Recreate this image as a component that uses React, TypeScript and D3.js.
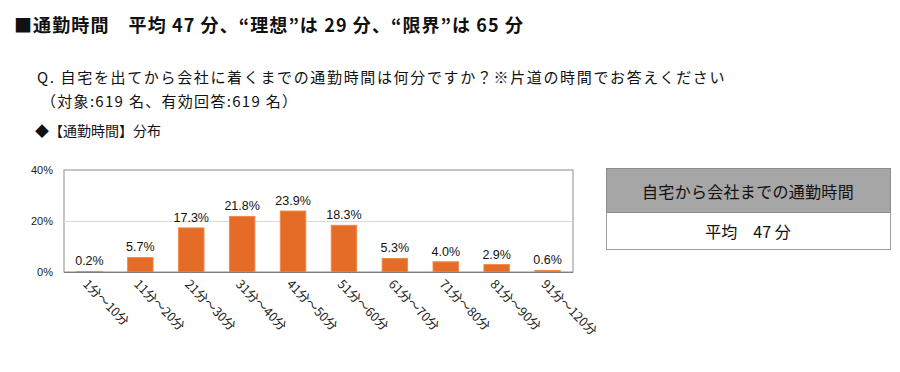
import { useEffect, useRef } from "react";
import * as d3 from "d3";

const categories = [
  "1分～10分",
  "11分～20分",
  "21分～30分",
  "31分～40分",
  "41分～50分",
  "51分～60分",
  "61分～70分",
  "71分～80分",
  "81分～90分",
  "91分～120分",
];
const shares = [0.2, 5.7, 17.3, 21.8, 23.9, 18.3, 5.3, 4.0, 2.9, 0.6];
const yTicks = [0, 20, 40];

const JP = '"Noto Sans CJK JP", "Noto Sans", sans-serif';
const NUM = '"Liberation Sans", "Noto Sans CJK JP", sans-serif';

export default function App() {
  const ref = useRef<SVGSVGElement>(null);

  useEffect(() => {
    if (!ref.current) return;
    const svg = d3.select(ref.current);
    svg.selectAll("*").remove();

    const width = 900;
    const height = 372;
    const plot = { left: 64, right: 573, top: 170, bottom: 272 };

    svg.attr("width", width).attr("height", height);
    svg.append("rect").attr("width", width).attr("height", height).attr("fill", "#fff");

    // headings
    svg
      .append("text")
      .attr("x", 14)
      .attr("y", 32)
      .style("font-family", JP)
      .style("font-size", "18px")
      .style("font-weight", "bold")
      .style("letter-spacing", "1.1px")
      .attr("fill", "#111")
      .text("■通勤時間　平均 47 分、“理想”は 29 分、“限界”は 65 分");

    const body = [
      { x: 37, y: 83, size: 15, sp: 1.65, t: "Q. 自宅を出てから会社に着くまでの通勤時間は何分ですか？※片道の時間でお答えください" },
      { x: 41, y: 107, size: 15, sp: 1.3, t: "（対象:619 名、有効回答:619 名）" },
      { x: 35, y: 136, size: 14, sp: 0, t: "◆【通勤時間】分布" },
    ];
    svg
      .selectAll(".body")
      .data(body)
      .join("text")
      .attr("class", "body")
      .attr("x", (d) => d.x)
      .attr("y", (d) => d.y)
      .style("font-family", JP)
      .style("font-size", (d) => `${d.size}px`)
      .style("letter-spacing", (d) => `${d.sp}px`)
      .attr("fill", "#111")
      .text((d) => d.t);

    const x = d3
      .scaleBand()
      .domain(categories)
      .range([plot.left, plot.right])
      .paddingInner(0.5)
      .paddingOuter(0.25);

    const y = d3.scaleLinear().domain([0, 40]).range([plot.bottom, plot.top]);

    // frame
    svg
      .append("rect")
      .attr("x", plot.left)
      .attr("y", plot.top)
      .attr("width", plot.right - plot.left)
      .attr("height", plot.bottom - plot.top)
      .attr("fill", "none")
      .attr("stroke", "#8c8c8c");

    // grid
    svg
      .selectAll(".grid")
      .data(yTicks.filter((t) => t > 0 && t < 40))
      .join("line")
      .attr("class", "grid")
      .attr("x1", plot.left)
      .attr("x2", plot.right)
      .attr("y1", (d) => y(d) + 0.5)
      .attr("y2", (d) => y(d) + 0.5)
      .attr("stroke", "#d9d9d9");

    // y axis
    const yAxis = svg
      .append("g")
      .attr("transform", `translate(${plot.left},0)`)
      .call(
        d3
          .axisLeft(y)
          .tickValues(yTicks)
          .tickSize(0)
          .tickPadding(11)
          .tickFormat((d) => `${d}%`)
      );
    yAxis.select(".domain").remove();
    yAxis
      .selectAll("text")
      .style("font-family", NUM)
      .style("font-size", "11px")
      .attr("fill", "#222");

    // bars
    svg
      .selectAll(".bar")
      .data(shares)
      .join("rect")
      .attr("class", "bar")
      .attr("x", (_, i) => x(categories[i]) || 0)
      .attr("y", (d) => y(d))
      .attr("width", x.bandwidth())
      .attr("height", (d) => y(0) - y(d))
      .attr("fill", "#e46c26")
      .attr("stroke", "#f08a4b")
      .attr("stroke-width", 1);

    // bottom axis line
    svg
      .append("line")
      .attr("x1", plot.left)
      .attr("x2", plot.right)
      .attr("y1", plot.bottom + 0.5)
      .attr("y2", plot.bottom + 0.5)
      .attr("stroke", "#7f7f7f");

    // value labels
    svg
      .selectAll(".val")
      .data(shares)
      .join("text")
      .attr("class", "val")
      .attr("x", (_, i) => (x(categories[i]) || 0) + x.bandwidth() / 2)
      .attr("y", (d) => y(d) - 6)
      .attr("text-anchor", "middle")
      .style("font-family", NUM)
      .style("font-size", "12.5px")
      .attr("fill", "#111")
      .text((d) => `${d.toFixed(1)}%`);

    // category labels
    svg
      .selectAll(".cat")
      .data(categories)
      .join("text")
      .attr("class", "cat")
      .attr("transform", (d) => {
        const cx = (x(d) || 0) + x.bandwidth() / 2 - 4;
        return `translate(${cx},${plot.bottom + 10}) rotate(45)`;
      })
      .attr("dy", "0.35em")
      .style("font-family", JP)
      .style("font-size", "12.5px")
      .attr("fill", "#222")
      .text((d) => d);

    // summary box
    const box = { x: 606, y: 168, w: 284, hh: 44, h: 81 };
    svg
      .append("rect")
      .attr("x", box.x + 0.5)
      .attr("y", box.y + 0.5)
      .attr("width", box.w)
      .attr("height", box.h)
      .attr("fill", "#fff")
      .attr("stroke", "#a0a0a0");
    svg
      .append("rect")
      .attr("x", box.x + 0.5)
      .attr("y", box.y + 0.5)
      .attr("width", box.w)
      .attr("height", box.hh)
      .attr("fill", "#a6a6a6")
      .attr("stroke", "#8c8c8c");
    svg
      .append("text")
      .attr("x", box.x + box.w / 2)
      .attr("y", box.y + 30)
      .attr("text-anchor", "middle")
      .style("font-family", JP)
      .style("font-size", "16px")
      .style("letter-spacing", "0.3px")
      .attr("fill", "#111")
      .text("自宅から会社までの通勤時間");
    svg
      .append("text")
      .attr("x", box.x + box.w / 2)
      .attr("y", box.y + 70)
      .attr("text-anchor", "middle")
      .style("font-family", JP)
      .style("font-size", "16px")
      .attr("fill", "#111")
      .text("平均　47 分");
  }, []);

  return (
    <svg
      ref={ref}
      style={{ position: "absolute", top: 0, left: 0, display: "block" }}
    />
  );
}
